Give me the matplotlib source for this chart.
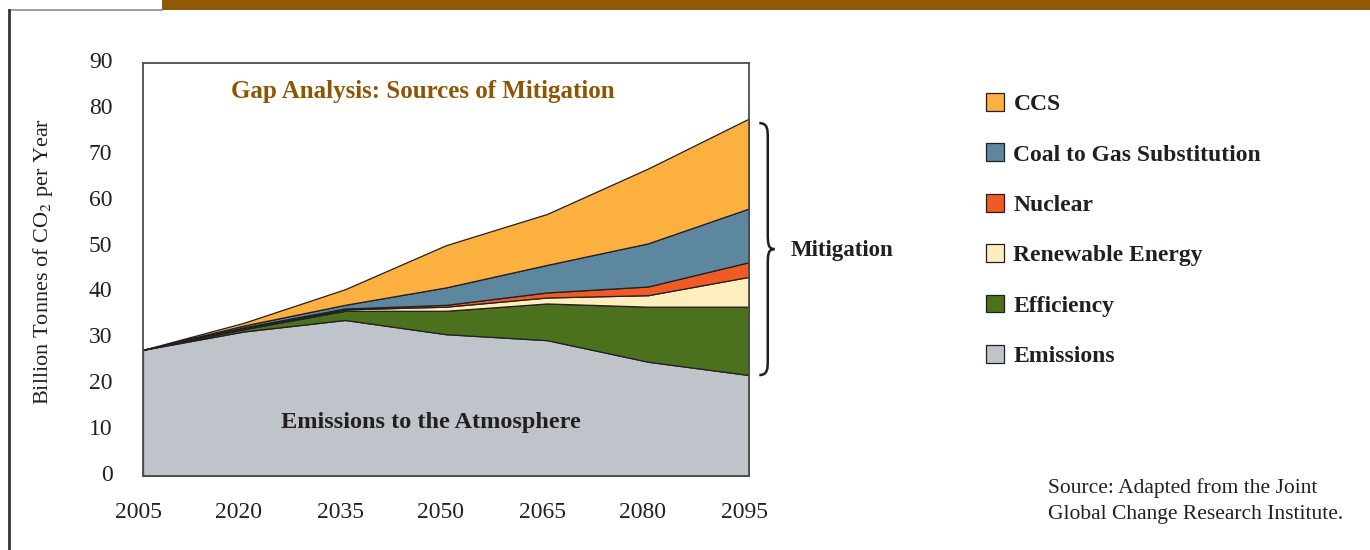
import matplotlib
matplotlib.use("Agg")
import matplotlib.pyplot as plt
from matplotlib.patches import Patch, Rectangle, PathPatch
from matplotlib.path import Path
from matplotlib.lines import Line2D
import matplotlib.transforms as mtransforms

plt.rcParams["font.family"] = ["Liberation Serif", "DejaVu Serif"]
plt.rcParams["mathtext.fontset"] = "stix"

# -------------------------
# Data (billion tonnes CO2 / year)
# -------------------------
years = [2005, 2020, 2035, 2050, 2065, 2080, 2095]
emissions = [27.5, 31.5, 34.0, 30.9, 29.6, 24.9, 22.0]
efficiency = [0.0, 0.5, 2.0, 5.1, 8.0, 12.0, 14.9]
renewable = [0.0, 0.2, 0.3, 0.9, 1.3, 2.5, 6.5]
nuclear = [0.0, 0.2, 0.2, 0.4, 1.1, 1.9, 3.2]
coal_to_gas = [0.0, 0.4, 0.8, 3.8, 6.0, 9.4, 11.7]
ccs = [0.0, 0.6, 3.4, 9.2, 11.1, 16.3, 19.6]

labels = ["Emissions", "Efficiency", "Renewable Energy", "Nuclear",
          "Coal to Gas Substitution", "CCS"]
colors = ["#BFC3CA", "#4B711E", "#FFEDBE", "#F05A24", "#5D879F", "#FBB040"]
y_ticks = [0, 10, 20, 30, 40, 50, 60, 70, 80, 90]

DARK = "#231F20"
BROWN = "#8E5503"

fig = plt.figure(figsize=(13.7, 5.5), dpi=100)
ax = fig.add_axes([143 / 1370, 1 - 476 / 550, 606 / 1370, 413 / 550])

layers = [emissions, efficiency, renewable, nuclear, coal_to_gas, ccs]
ax.stackplot(years, *layers, colors=colors, edgecolor=DARK, linewidth=0.9)

ax.set_xlim(2005, 2095)
ax.set_ylim(0, 90)
ax.set_xticks(years)
ax.set_yticks(y_ticks)
ax.tick_params(length=0, labelsize=17, colors=DARK)
ax.tick_params(axis="y", pad=22)
ax.tick_params(axis="x", pad=19)
for s in ax.spines.values():
    s.set_color("#4D4D4F")
    s.set_linewidth(1.3)

# the printed labels sit a few pixels off the grid positions
xshift = mtransforms.ScaledTranslation(-0.05, 0, fig.dpi_scale_trans)
for lab in ax.xaxis.get_majorticklabels():
    lab.set_transform(lab.get_transform() + xshift)
yshift = mtransforms.ScaledTranslation(0, 0.03, fig.dpi_scale_trans)
for lab in ax.yaxis.get_majorticklabels():
    lab.set_transform(lab.get_transform() + yshift)

ax.set_ylabel("Billion Tonnes of CO$_2$ per Year", fontsize=16, color=DARK)
ax.yaxis.set_label_coords(-0.145, 0.52)

ax.text(0.462, 0.932, "Gap Analysis: Sources of Mitigation", transform=ax.transAxes,
        ha="center", va="center", fontsize=18, fontweight="bold", color=BROWN)
ax.text(0.475, 0.13, "Emissions to the Atmosphere", transform=ax.transAxes,
        ha="center", va="center", fontsize=17.5, fontweight="bold", color=DARK)

# -------------------------
# Brace marking the mitigation range at 2095
# -------------------------
y0 = emissions[-1]
y1 = sum(layer[-1] for layer in layers) - 1.0
ym = (y0 + y1) / 2
dy = 3.5
x0, xm, xt = 1.017, 1.031, 1.042
verts = [
    (x0, y1), (xm, y1), (xm, y1 - dy * 0.4), (xm, y1 - dy),
    (xm, ym + dy),
    (xm, ym + dy * 0.4), (xm, ym), (xt, ym),
    (xm, ym), (xm, ym - dy * 0.4), (xm, ym - dy),
    (xm, y0 + dy),
    (xm, y0 + dy * 0.4), (xm, y0), (x0, y0),
]
codes = [Path.MOVETO, Path.CURVE4, Path.CURVE4, Path.CURVE4,
         Path.LINETO,
         Path.CURVE4, Path.CURVE4, Path.CURVE4,
         Path.CURVE4, Path.CURVE4, Path.CURVE4,
         Path.LINETO,
         Path.CURVE4, Path.CURVE4, Path.CURVE4]
trans = mtransforms.blended_transform_factory(ax.transAxes, ax.transData)
brace = PathPatch(Path(verts, codes), facecolor="none", edgecolor=DARK,
                  linewidth=1.8, transform=trans, clip_on=False)
ax.add_patch(brace)
ax.text(1.068, ym - 0.3, "Mitigation", transform=trans, ha="left", va="center",
        fontsize=16.5, fontweight="bold", color=DARK)

# -------------------------
# Legend (top of stack first)
# -------------------------
handles = [Patch(facecolor=c, edgecolor=DARK, linewidth=0.9) for c in colors]
leg = fig.legend(handles[::-1], labels[::-1], loc="upper left",
                 bbox_to_anchor=(986 / 1370, 1 - 93 / 550), frameon=False,
                 fontsize=17, labelspacing=1.2, handlelength=0.78,
                 handleheight=0.78, handletextpad=0.38, borderpad=0,
                 borderaxespad=0)
for t in leg.get_texts():
    t.set_fontweight("bold")
    t.set_color(DARK)

fig.text(1048 / 1370, 1 - 501 / 550,
         "Source: Adapted from the Joint\nGlobal Change Research Institute.",
         ha="left", va="center", fontsize=15.5, color=DARK, linespacing=1.47)

# -------------------------
# Page decorations
# -------------------------
fig.add_artist(Rectangle((162 / 1370, 1 - 10 / 550), 1 - 162 / 1370, 10 / 550,
                         transform=fig.transFigure, facecolor="#915803",
                         edgecolor="none"))
fig.add_artist(Line2D([9 / 1370, 162 / 1370], [1 - 10 / 550, 1 - 10 / 550],
                      transform=fig.transFigure, color="#8C8C8C", linewidth=1.2))
fig.add_artist(Line2D([9 / 1370, 9 / 1370], [0, 1 - 10 / 550],
                      transform=fig.transFigure, color="#333333", linewidth=2))

fig.savefig("out.png", dpi=100)
